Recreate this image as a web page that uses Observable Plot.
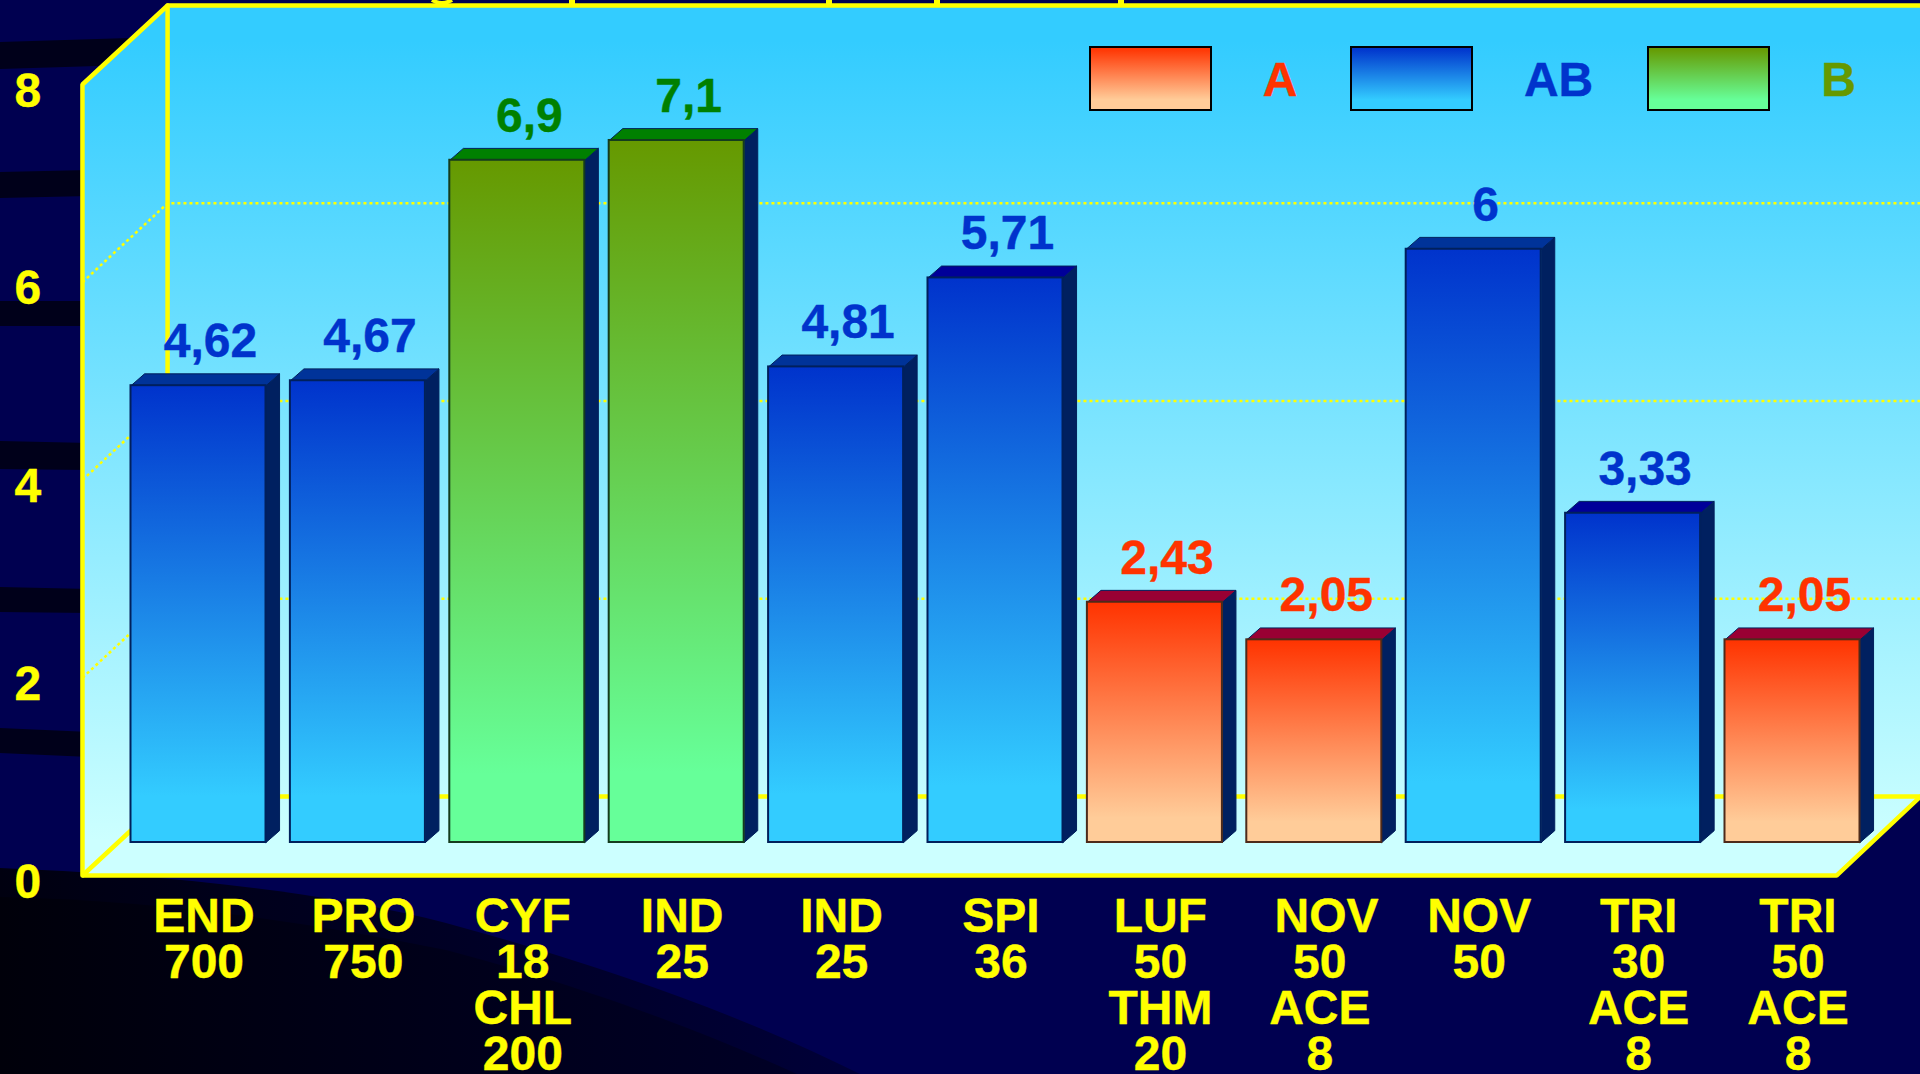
<!DOCTYPE html>
<html lang="en">
<head>
<meta charset="utf-8">
<title>Bar chart by drug and dose</title>
<script src="https://cdn.jsdelivr.net/npm/d3@7"></script>
<script src="https://cdn.jsdelivr.net/npm/@observablehq/plot@0.6"></script>
<style>
  html, body { margin: 0; padding: 0; background: #000050; }
  body { position: relative; width: 1920px; height: 1074px; overflow: hidden; }
  #backdrop, #chart { position: absolute; left: 0; top: 0; width: 1920px; height: 1074px; display: block; }
  #chart svg { display: block; max-width: none; }
  .legend-box { position: absolute; top: 46px; width: 123px; height: 65px; box-sizing: border-box; border: 2px solid #000; }
  .legend-label { position: absolute; top: 55.5px; transform: translateX(-50%); font: bold 48px/48px "Liberation Sans", sans-serif; -webkit-text-stroke: 0.4px currentColor; }
</style>
</head>
<body>
<!-- Slide background: dark bands on the navy ground, the sweep at bottom left, and the clipped tails of the heading -->
<svg id="backdrop" width="1920" height="1074" viewBox="0 0 1920 1074">
  <defs>
    <linearGradient id="sweep" x1="0" x2="1" y1="0" y2="0">
      <stop offset="0" stop-color="#000010"/>
      <stop offset="1" stop-color="#000038"/>
    </linearGradient>
    <linearGradient id="sweepInner" x1="0" x2="1" y1="0" y2="0">
      <stop offset="0" stop-color="#00000a"/>
      <stop offset="1" stop-color="#000026"/>
    </linearGradient>
  </defs>
  <g fill="#00001a">
    <path d="M0 42L130 38V65L0 69Z"/>
    <path d="M0 172L90 170V196L0 198Z"/>
    <path d="M0 301H90V326H0Z"/>
    <path d="M0 441L90 443V470L0 469Z"/>
    <path d="M0 587L90 589V613L0 612Z"/>
    <path d="M0 728L90 732V757L0 753Z"/>
  </g>
  <path fill="url(#sweep)" d="M0 868C150 874 320 890 446 923C600 965 730 1010 860 1074H0Z"/>
  <path fill="url(#sweepInner)" d="M0 897C150 900 300 920 446 950C580 985 700 1030 797 1074H0Z"/>
  <g fill="#ffff00">
    <rect x="569" y="0" width="6" height="5"/>
    <rect x="826" y="0" width="6" height="5"/>
    <rect x="934" y="0" width="6" height="5"/>
    <rect x="1118" y="0" width="6" height="5"/>
  </g>
  <path d="M432 0Q442 6 452 0" fill="none" stroke="#ffff00" stroke-width="4"/>
</svg>

<div id="chart"></div>

<div class="legend-box" style="left:1088.5px;background:linear-gradient(#ff3300,#ffcc99 85%)"></div>
<div class="legend-label" style="left:1280px;color:#ff3300">A</div>
<div class="legend-box" style="left:1350px;background:linear-gradient(#0033cc,#33ccff 85%)"></div>
<div class="legend-label" style="left:1558.6px;color:#0033cc">AB</div>
<div class="legend-box" style="left:1646.5px;background:linear-gradient(#669900,#66ff99 85%)"></div>
<div class="legend-label" style="left:1838.6px;color:#669900">B</div>

<script>
// Chart data: one entry per treatment
const drugLabels = [
  "END\n700", "PRO\n750", "CYF\n18\nCHL\n200", "IND\n25", "IND\n25", "SPI\n36",
  "LUF\n50\nTHM\n20", "\u00a0NOV\n50\nACE\n8", "NOV\n50", "TRI\n30\nACE\n8", "TRI\n50\nACE\n8"
];
const scores = [4.62, 4.67, 6.9, 7.1, 4.81, 5.71, 2.43, 2.05, 6, 3.33, 2.05];
const classes = ["AB", "AB", "B", "B", "AB", "AB", "A", "A", "AB", "AB", "A"];
const capTones = ["#003399", "#003399", "#008000", "#008000", "#003399", "#000099", "#990033", "#990033", "#003399", "#000099", "#990033"];
const yTicks = [0, 2, 4, 6, 8];
const gridValues = [2, 4, 6];

const fillOf = {A: "url(#gradA)", AB: "url(#gradAB)", B: "url(#gradB)"};
const edgeOf = {A: "#4d2a1a", AB: "#00205c", B: "#143c1e"};
const labelOf = {A: "#ff3300", AB: "#0033cc", B: "#008000"};
const sideTone = "#002060";
const yellow = "#ffff00";
const font = {fontFamily: "Liberation Sans", fontWeight: "bold", fontSize: 48, strokeWidth: 0.4};

const bars = scores.map((value, i) => ({
  i, value,
  group: classes[i],
  cap: capTones[i],
  label: String(value).replace(".", ","),
  name: drugLabels[i]
}));

// Extents of the drawn box, in scale units of the two axes
const halfBar = 0.4235;
const depthX = 0.085;
const depthY = 0.12;
const wall = {
  frontLeft: -0.728, backLeft: -0.194,
  frontRight: 10.276, backRight: 10.803,
  frontDrop: -0.334, backRise: 0.465,
  top: 8
};

// Closed outlines for the top and the right side of each bar
const caps = bars.flatMap(b => [
  [b.i - halfBar, b.value],
  [b.i - halfBar + depthX, b.value + depthY],
  [b.i + halfBar + depthX, b.value + depthY],
  [b.i + halfBar, b.value]
].map(([x, y]) => ({x, y, id: b.i, tone: b.cap})));
const sides = bars.flatMap(b => [
  [b.i + halfBar, 0],
  [b.i + halfBar + depthX, depthY],
  [b.i + halfBar + depthX, b.value + depthY],
  [b.i + halfBar, b.value]
].map(([x, y]) => ({x, y, id: b.i})));

// The three faces of the box
const lo = wall.frontDrop, hi = wall.backRise, t = wall.top;
const faces = [
  [[wall.backLeft, hi], [wall.backRight, hi], [wall.backRight, t + hi], [wall.backLeft, t + hi]],
  [[wall.frontLeft, lo], [wall.backLeft, hi], [wall.backLeft, t + hi], [wall.frontLeft, t + lo]],
  [[wall.frontLeft, lo], [wall.frontRight, lo], [wall.backRight, hi], [wall.backLeft, hi]]
].flatMap((pts, id) => pts.map(([x, y]) => ({x, y, id})));

// Solid yellow edges of the box
const edges = [
  [[wall.frontLeft, lo], [wall.frontLeft, t + lo], [wall.backLeft, t + hi], [wall.backRight, t + hi]],
  [[wall.backLeft, t + hi], [wall.backLeft, hi], [wall.backRight, hi]],
  [[wall.backLeft, hi], [wall.frontLeft, lo], [wall.frontRight, lo], [wall.backRight, hi]]
].flatMap((pts, id) => pts.map(([x, y]) => ({x, y, id})));

// Dotted grid on the back and left faces
const grid = gridValues.flatMap(v => [
  [wall.frontLeft, v + lo], [wall.backLeft, v + hi], [wall.backRight, v + hi]
].map(([x, y]) => ({x, y, id: v})));

// Paint servers shared by the walls and bars
function gradients() {
  const svg = d3.create("svg:defs");
  const add = (id, stops, attrs = {}) => {
    const g = svg.append("linearGradient").attr("id", id)
      .attr("x1", 0).attr("x2", 0).attr("y1", 0).attr("y2", 1);
    Object.entries(attrs).forEach(([k, v]) => g.attr(k, v));
    stops.forEach(([o, c]) => g.append("stop").attr("offset", o).attr("stop-color", c));
  };
  add("gradWall", [[0, "#33ccff"], [1, "#ccffff"]],
    {gradientUnits: "userSpaceOnUse", y1: 40, y2: 840, x1: 0, x2: 0});
  add("gradAB", [[0, "#0033cc"], [0.9, "#33ccff"], [1, "#33ccff"]]);
  add("gradB", [[0, "#669900"], [0.9, "#66ff99"], [1, "#66ff99"]]);
  add("gradA", [[0, "#ff3300"], [0.9, "#ffcc99"], [1, "#ffcc99"]]);
  return svg.node();
}

const chart = Plot.plot({
  width: 1920,
  height: 1074,
  margin: 0,
  style: {background: "transparent"},
  x: {type: "linear", domain: [0, 10], range: [198, 1792], axis: null},
  y: {type: "linear", domain: [0, 8], range: [842, 51], axis: null},
  color: {type: "identity"},
  marks: [
    gradients,
    // Box faces, edges and grid
    Plot.line(faces, {x: "x", y: "y", z: "id", fill: "url(#gradWall)", stroke: "none", curve: "linear-closed"}),
    Plot.line(grid, {x: "x", y: "y", z: "id", stroke: yellow, strokeWidth: 2.5, strokeDasharray: "3,3", strokeLinecap: "butt", curve: "linear"}),
    Plot.line(edges, {x: "x", y: "y", z: "id", stroke: yellow, strokeWidth: 4.5, strokeLinejoin: "miter", curve: "linear"}),
    // Bars: side, top, then the gradient front
    Plot.line(sides, {x: "x", y: "y", z: "id", fill: sideTone, stroke: "#00205c", strokeWidth: 1, curve: "linear-closed"}),
    Plot.line(caps, {x: "x", y: "y", z: "id", fill: "tone", stroke: "#00205c", strokeWidth: 1, curve: "linear-closed"}),
    Plot.rect(bars, {
      x1: d => d.i - halfBar,
      x2: d => d.i + halfBar,
      y1: 0,
      y2: "value",
      fill: d => fillOf[d.group],
      stroke: d => edgeOf[d.group],
      strokeWidth: 2
    }),
    // Value labels above the bars
    Plot.text(bars, {
      x: "i", y: "value", text: "label", fill: d => labelOf[d.group], stroke: d => labelOf[d.group],
      dx: 12, dy: -28.5, lineAnchor: "bottom", ...font
    }),
    // Treatment labels below the box
    Plot.text(bars, {
      x: "i", y: 0, text: "name", fill: yellow, stroke: yellow,
      dx: 5.5, dy: 56.5, lineAnchor: "top", lineHeight: 0.958, ...font
    }),
    // Value axis labels on the front plane
    Plot.text(yTicks, {
      x: -1.07, y: d => d, text: d => String(d), fill: yellow, stroke: yellow,
      dy: 55, lineAnchor: "bottom", ...font
    })
  ]
});
document.getElementById("chart").append(chart);
</script>
</body>
</html>
